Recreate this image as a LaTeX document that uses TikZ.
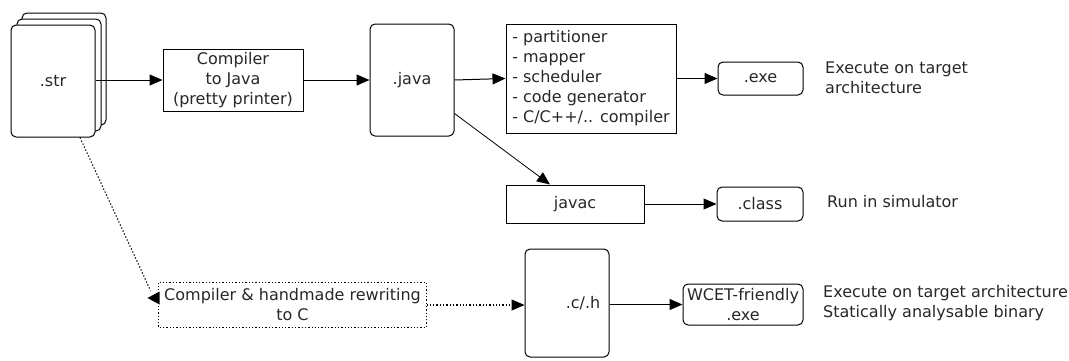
\documentclass[tikz,border=0pt]{standalone}
\usepackage{fontspec}
\setmainfont{DejaVu Sans}
\usetikzlibrary{arrows.meta,calc}
\definecolor{txt}{RGB}{40,40,40}
\begin{document}
\begin{tikzpicture}[x=1pt,y=-1pt,
  every node/.style={font=\fontsize{16}{20}\selectfont, text=txt},
  box/.style={draw, line width=1pt, inner sep=0pt, align=center, fill=white},
  rbox/.style={box, rounded corners=5pt},
  arr/.style={line width=1pt, -{Triangle[length=13pt,width=11pt]}},
  arrthin/.style={line width=0.8pt, -{Triangle[length=13pt,width=11pt]}},
  dotl/.style={line width=1.1pt, dash pattern=on 1.3pt off 2pt},
  lbl/.style={anchor=west, align=left, inner sep=0pt}
]
\useasboundingbox (0,0) rectangle (1069,360);
% .str stack
\node[rbox, minimum width=84pt, minimum height=112pt] (str3) at (64,69) {};
\node[rbox, minimum width=84pt, minimum height=112pt] (str2) at (59,75) {};
\node[rbox, minimum width=84pt, minimum height=112pt] (front) at (53,81) {.str};
% top row
\node[box, minimum width=140pt, minimum height=62pt] (comp) at (233,80) {Compiler\\to Java\\(pretty printer)};
\node[rbox, minimum width=84pt, minimum height=112pt] (java) at (412,80) {.java};
\node[box, minimum width=170pt, minimum height=109pt, align=left] (list) at (591,78.5) {- partitioner\\- mapper\\- scheduler\\- code generator\\- C/C++/.. compiler};
\node[rbox, minimum width=85pt, minimum height=33pt] (exe) at (760.5,78.5) {.exe};
\node[lbl] (l1) at (825,78) {Execute on target\\architecture};
% middle row
\node[box, minimum width=138pt, minimum height=38pt] (javac) at (575,204) {javac};
\node[rbox, minimum width=86pt, minimum height=34pt] (class) at (760,204) {.class};
\node[lbl] (l2) at (827,202) {Run in simulator};
% bottom row
\node[box, draw=none, minimum width=267pt, minimum height=44pt] (hand) at (292.5,305) {Compiler \& handmade rewriting\\to C};
\draw[dotl] (hand.north west) rectangle (hand.south east);
\node[rbox, minimum width=84pt, minimum height=108pt] (ch) at (567,303) {\hspace*{32pt}.c/.h};
\node[rbox, minimum width=120pt, minimum height=41pt] (wcet) at (743,304.5) {WCET-friendly\\.exe};
\node[lbl] (l3) at (823,303) {Execute on target architecture\\Statically analysable binary};
% connectors
\draw[arr] (front.east |- comp.west) -- (comp.west);
\draw[arr] (comp.east) -- (java.west);
\draw[arr] (java.east) -- (list.west);
\draw[arr] (list.east |- exe.west) -- (exe.west);
\coordinate (j1) at ($(java.south east)+(0,-23)$);
\coordinate (j2) at ($(javac.north)+(-25,0)$);
\draw[arrthin] (j1) -- (j2);
\draw[arr] (javac.east) -- (class.west);
\coordinate (s1) at ($(front.south)+(27,0)$);
\coordinate (s2) at ($(hand.north west)+(-8,8)$);
\draw[dotl] (s1) -- (s2);
\fill[black] ($(hand.north west)+(1,9)$) -- ++(0,13) -- ++(-12,-6.5) -- cycle;
\draw[dotl, -{Triangle[length=13pt,width=11pt]}] (hand.east) -- (hand.east -| ch.west);
\draw[arr] (ch.east |- wcet.west) -- (wcet.west);
\end{tikzpicture}
\end{document}
